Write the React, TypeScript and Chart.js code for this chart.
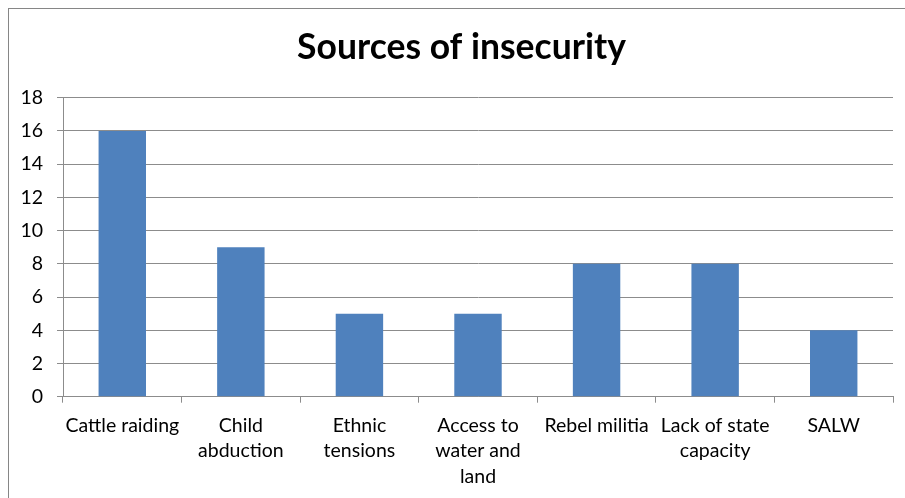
import React, { useEffect, useRef } from "react";
import { Chart, registerables } from "chart.js";

Chart.register(...registerables);

const categories: string[] = [
  "Cattle raiding",
  "Child abduction",
  "Ethnic tensions",
  "Access to water and land",
  "Rebel militia",
  "Lack of state capacity",
  "SALW",
];
const tickLabels: string[][] = [
  ["Cattle raiding"],
  ["Child", "abduction"],
  ["Ethnic", "tensions"],
  ["Access to", "water and", "land"],
  ["Rebel militia"],
  ["Lack of state", "capacity"],
  ["SALW"],
];
const values: number[] = [16, 9, 5, 5, 8, 8, 4];
const yMin = 0;
const yMax = 18;
const yStep = 2;
const title = "Sources of insecurity";

export default function App() {
  const ref = useRef<HTMLCanvasElement | null>(null);

  useEffect(() => {
    if (!ref.current) return;
    const chart = new Chart(ref.current, {
      type: "bar",
      data: {
        labels: tickLabels,
        datasets: [
          {
            label: "Series 1",
            data: values,
            backgroundColor: "#4F81BD",
            borderWidth: 0,
            barPercentage: 0.4,
            categoryPercentage: 1,
            yAxisID: "y",
          },
        ],
      },
      options: {
        responsive: false,
        animation: false,
        devicePixelRatio: 1,
        layout: { padding: { left: 0, right: 0, top: 0, bottom: 0 } },
        plugins: {
          legend: { display: false },
          tooltip: { enabled: false },
          title: {
            display: true,
            text: title,
            color: "#000000",
            font: { family: "Lato", size: 35.5, weight: "bold", lineHeight: 1.2 },
            padding: { top: 17, bottom: 29.1 },
          },
        },
        scales: {
          x: {
            offset: true,
            grid: {
              display: true,
              drawOnChartArea: false,
              drawTicks: true,
              tickLength: 6,
              color: "#8c8c8c",
              offset: true,
            },
            border: { display: true, color: "#8c8c8c", width: 1 },
            ticks: {
              color: "#000000",
              font: { family: "Lato", size: 19.5, lineHeight: 1.31 },
              padding: 10,
              maxRotation: 0,
              minRotation: 0,
              autoSkip: false,
            },
            afterFit: (scale: any) => {
              scale.height = 101.3;
            },
          },
          y: {
            min: yMin,
            max: yMax,
            grid: {
              color: "#8c8c8c",
              drawTicks: true,
              tickLength: 6,
            },
            border: { display: true, color: "#8c8c8c", width: 1 },
            ticks: {
              stepSize: yStep,
              color: "#000000",
              font: { family: "Lato", size: 19.5 },
              padding: 14,
            },
            afterFit: (scale: any) => {
              scale.width = 54;
            },
          },
          yRight: {
            position: "right",
            display: true,
            min: yMin,
            max: yMax,
            grid: { display: false, drawTicks: false },
            border: { display: false },
            ticks: { display: false },
            afterFit: (scale: any) => {
              scale.width = 21;
            },
          },
        },
      },
    });
    return () => chart.destroy();
  }, []);

  return (
    <div
      style={{
        position: "fixed",
        left: 8,
        top: 8,
        right: 0,
        bottom: 0,
        overflow: "hidden",
        boxSizing: "border-box",
        borderTop: "1px solid #868686",
        borderLeft: "1px solid #868686",
        background: "#ffffff",
      }}
    >
      <canvas ref={ref} width={905} height={489} style={{ display: "block", width: 905, height: 489 }} />
    </div>
  );
}
